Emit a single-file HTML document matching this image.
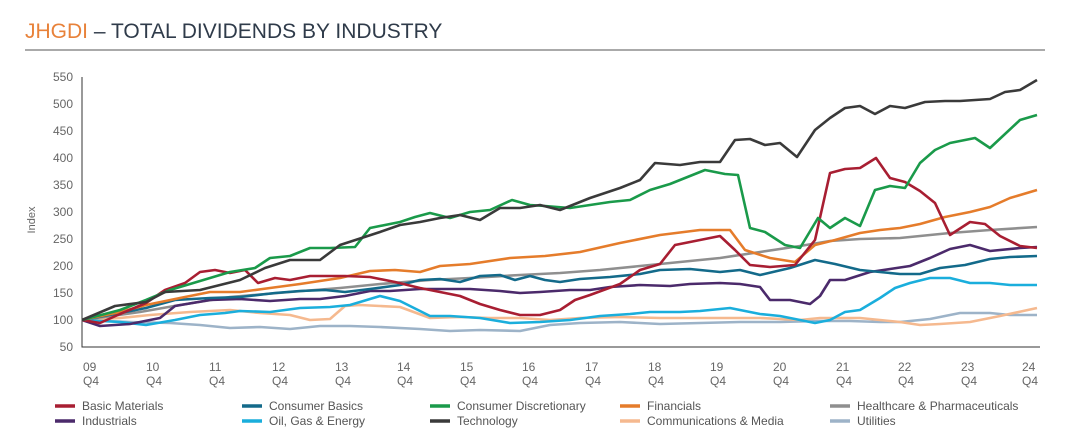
<!DOCTYPE html>
<html><head><meta charset="utf-8"><style>
body{margin:0;background:#fff;width:1085px;height:443px;overflow:hidden;font-family:"Liberation Sans",sans-serif}
</style></head><body>
<svg width="1085" height="443" xmlns="http://www.w3.org/2000/svg" font-family="Liberation Sans, sans-serif">
<text x="25" y="38" font-size="21" fill="#2f3b4a"><tspan fill="#e8823a">JHGDI</tspan> – TOTAL DIVIDENDS BY INDUSTRY</text>
<line x1="25" y1="50" x2="1045" y2="50" stroke="#777" stroke-width="1.2"/>
<g font-size="12" fill="#666" text-anchor="end">
<text x="73" y="81">550</text><text x="73" y="108">500</text><text x="73" y="135">450</text><text x="73" y="162">400</text><text x="73" y="189">350</text><text x="73" y="216">300</text><text x="73" y="243">250</text><text x="73" y="270">200</text><text x="73" y="297">150</text><text x="73" y="324">100</text><text x="73" y="351">50</text>
</g>
<text transform="translate(35,220) rotate(-90)" font-size="11" fill="#666" text-anchor="middle">Index</text>
<polyline points="82,77 82,347 1040,347" fill="none" stroke="#333" stroke-width="1"/>
<g font-size="12" fill="#666">
<text x="83" y="371">09</text><text x="83" y="385">Q4</text>
<text x="146" y="371">10</text><text x="146" y="385">Q4</text>
<text x="209" y="371">11</text><text x="209" y="385">Q4</text>
<text x="272" y="371">12</text><text x="272" y="385">Q4</text>
<text x="335" y="371">13</text><text x="335" y="385">Q4</text>
<text x="397" y="371">14</text><text x="397" y="385">Q4</text>
<text x="460" y="371">15</text><text x="460" y="385">Q4</text>
<text x="522" y="371">16</text><text x="522" y="385">Q4</text>
<text x="585" y="371">17</text><text x="585" y="385">Q4</text>
<text x="648" y="371">18</text><text x="648" y="385">Q4</text>
<text x="710" y="371">19</text><text x="710" y="385">Q4</text>
<text x="773" y="371">20</text><text x="773" y="385">Q4</text>
<text x="836" y="371">21</text><text x="836" y="385">Q4</text>
<text x="898" y="371">22</text><text x="898" y="385">Q4</text>
<text x="961" y="371">23</text><text x="961" y="385">Q4</text>
<text x="1022" y="371">24</text><text x="1022" y="385">Q4</text>
</g>
<g fill="none" stroke-width="2.6" stroke-linejoin="round">
<polyline stroke="#9db3c8" points="82,320 130,322 170,323 200,325 230,328 260,327 290,329 320,326 350,326 380,327 420,329 450,331 480,330 520,331 550,325 580,323 620,322 660,324 700,323 740,322 780,322 820,321 850,321 880,322 900,322 930,319 960,313 990,313 1010,315 1037,315"/>
<polyline stroke="#f5b98f" points="82,320 120,318 150,315 190,312 230,310 260,313 290,315 310,320 330,319 345,306 360,305 380,306 400,307 430,318 460,317 490,318 520,318 550,320 580,318 620,317 660,318 700,318 730,318 760,318 800,320 820,318 840,318 860,318 880,320 900,322 920,325 940,324 970,322 1000,316 1037,308"/>
<polyline stroke="#8f8f8f" points="82,320 140,312 180,305 230,297 290,292 340,288 380,284 430,280 470,278 520,275 560,273 600,270 640,266 680,262 720,258 760,252 800,246 830,241 860,239 900,238 950,233 990,230 1037,227"/>
<polyline stroke="#1aaedc" points="82,320 120,322 146,325 175,320 200,315 225,313 240,311 270,312 300,308 330,307 350,305 380,296 400,301 430,316 450,316 480,318 510,323 540,322 570,320 600,316 630,314 650,312 680,312 700,311 730,308 760,314 780,316 800,320 815,323 830,320 845,312 860,310 880,298 895,288 910,283 930,278 950,278 970,283 990,283 1010,285 1037,285"/>
<polyline stroke="#4b2a6b" points="82,320 100,326 130,324 160,318 175,306 210,300 240,299 270,301 300,299 320,299 345,296 370,291 390,291 420,289 440,289 470,289 500,291 520,293 540,292 570,290 590,290 610,287 640,285 670,286 690,284 720,283 740,284 760,287 770,300 790,300 810,304 820,296 830,280 845,280 870,272 890,269 910,266 930,258 950,249 970,245 990,251 1020,248 1037,247"/>
<polyline stroke="#136a8a" points="82,320 120,313 146,308 175,300 210,298 240,297 275,293 300,291 325,290 345,292 370,289 400,285 420,280 440,279 460,282 480,276 500,275 515,280 530,276 545,280 560,282 580,279 610,277 640,274 660,270 690,269 720,272 740,270 760,275 790,268 815,260 835,264 860,270 880,272 900,274 920,274 940,268 965,265 990,259 1010,257 1037,256"/>
<polyline stroke="#e57c2b" points="82,320 120,312 146,305 180,298 210,292 240,292 270,288 300,284 340,278 370,271 395,270 420,272 440,266 470,264 510,258 545,256 580,252 620,243 660,235 700,230 730,230 745,250 770,258 795,262 815,245 835,240 860,233 880,230 900,228 920,224 945,217 970,212 990,207 1010,198 1037,190"/>
<polyline stroke="#a81e32" points="82,320 100,323 120,314 146,303 165,290 185,283 200,272 215,270 230,273 245,270 258,283 275,278 290,280 310,276 325,276 345,276 370,277 395,282 420,288 440,292 460,296 480,304 500,310 520,315 540,315 560,310 575,300 590,295 620,284 640,270 660,264 675,245 700,240 720,236 735,250 750,265 770,267 795,265 815,240 830,173 845,169 860,168 876,158 890,178 905,182 920,191 935,203 950,235 970,222 985,224 1000,236 1020,246 1037,248"/>
<polyline stroke="#1a9a4a" points="82,320 120,310 146,300 170,290 200,281 230,272 255,268 270,258 290,256 310,248 330,248 355,247 370,228 400,222 415,217 430,213 450,218 470,212 490,210 512,200 530,205 545,206 570,208 610,202 630,200 650,190 670,184 690,176 705,170 725,174 738,175 750,228 765,232 785,245 800,248 818,218 830,228 845,218 860,226 875,190 890,186 905,188 920,163 935,150 950,143 975,138 990,148 1020,120 1037,115"/>
<polyline stroke="#3a3a3a" points="82,320 115,306 146,302 165,292 200,290 240,280 265,268 290,260 320,260 340,245 380,232 400,225 420,222 440,218 460,215 480,220 500,208 520,208 540,205 560,210 590,198 620,188 640,180 655,163 680,165 700,162 720,162 735,140 750,139 765,145 780,143 797,157 815,130 830,118 845,108 860,106 875,114 890,106 905,108 925,102 945,101 960,101 975,100 990,99 1005,92 1020,90 1037,80"/>
</g>
<g stroke-width="3.5">
<line x1="55" y1="406" x2="75" y2="406" stroke="#a81e32"/><line x1="55" y1="421" x2="75" y2="421" stroke="#4b2a6b"/>
<line x1="242" y1="406" x2="262" y2="406" stroke="#136a8a"/><line x1="242" y1="421" x2="262" y2="421" stroke="#1aaedc"/>
<line x1="430" y1="406" x2="450" y2="406" stroke="#1a9a4a"/><line x1="430" y1="421" x2="450" y2="421" stroke="#3a3a3a"/>
<line x1="620" y1="406" x2="640" y2="406" stroke="#e57c2b"/><line x1="620" y1="421" x2="640" y2="421" stroke="#f5b98f"/>
<line x1="830" y1="406" x2="850" y2="406" stroke="#8f8f8f"/><line x1="830" y1="421" x2="850" y2="421" stroke="#9db3c8"/>
</g>
<g font-size="12" fill="#555">
<text x="82" y="410">Basic Materials</text><text x="82" y="425">Industrials</text>
<text x="269" y="410">Consumer Basics</text><text x="269" y="425">Oil, Gas &amp; Energy</text>
<text x="457" y="410">Consumer Discretionary</text><text x="457" y="425">Technology</text>
<text x="647" y="410">Financials</text><text x="647" y="425">Communications &amp; Media</text>
<text x="857" y="410">Healthcare &amp; Pharmaceuticals</text><text x="857" y="425">Utilities</text>
</g>
</svg>
</body></html>
